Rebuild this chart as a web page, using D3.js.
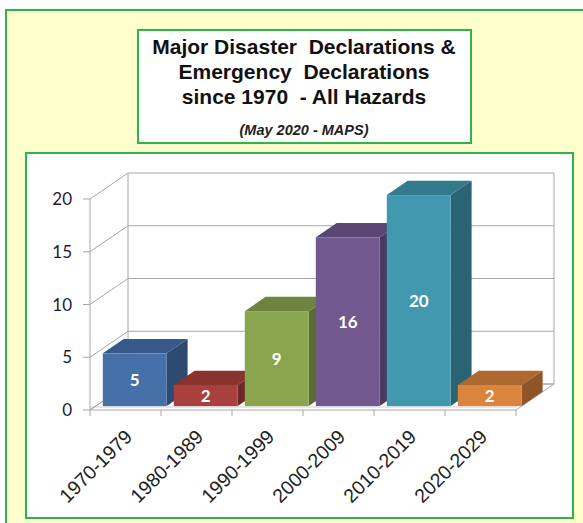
<!DOCTYPE html>
<html>
<head>
<meta charset="utf-8">
<script src="https://cdn.jsdelivr.net/npm/d3@7"></script>
<style>
  body { margin: 0; background: #fff; }
  svg { display: block; }
</style>
</head>
<body>
<div id="chart"></div>
<script>
// data
var decades = ["1970-1979", "1980-1989", "1990-1999", "2000-2009", "2010-2019", "2020-2029"];
var declarations = [5, 2, 9, 16, 20, 2];
var yTicks = [0, 5, 10, 15, 20];
var titleLines = ["Major Disaster  Declarations &", "Emergency  Declarations", "since 1970  - All Hazards"];
var subTitle = "(May 2020 - MAPS)";

// face colours, front / top / side
var frontCol = ["#4571a8", "#a8403e", "#89a54e", "#71588f", "#4198af", "#db843d"];
var topCol   = ["#36598a", "#893330", "#6e843e", "#5a4673", "#337a8c", "#ae6830"];
var sideCol  = ["#2d4a70", "#6e2927", "#5a6c33", "#4a3a5e", "#2a6372", "#8e5528"];

var W = 583, H = 523;
var green = "#2fb350";

var svg = d3.select("#chart").append("svg")
  .attr("width", W)
  .attr("height", H);

// outer yellow panel
svg.append("rect")
  .attr("x", 6).attr("y", 10)
  .attr("width", W + 10).attr("height", H + 10)
  .attr("fill", "#ffffcc")
  .attr("stroke", green).attr("stroke-width", 2);

// title box
svg.append("rect")
  .attr("x", 138).attr("y", 30)
  .attr("width", 333).attr("height", 113)
  .attr("fill", "#fff")
  .attr("stroke", green).attr("stroke-width", 2);

svg.selectAll("text.title")
  .data(titleLines)
  .enter()
  .append("text")
  .attr("class", "title")
  .attr("x", 304)
  .attr("y", function(d, i) { return 54 + i * 25; })
  .attr("text-anchor", "middle")
  .style("font-family", "'Liberation Sans', Arial, sans-serif")
  .style("font-weight", "bold")
  .style("font-size", "21px")
  .style("white-space", "pre")
  .attr("fill", "#111")
  .text(function(d) { return d; });

svg.append("text")
  .attr("x", 304).attr("y", 135)
  .attr("text-anchor", "middle")
  .style("font-family", "'Liberation Sans', Arial, sans-serif")
  .style("font-weight", "bold")
  .style("font-style", "italic")
  .style("font-size", "14.5px")
  .attr("fill", "#222")
  .text(subTitle);

// chart box
svg.append("rect")
  .attr("x", 26).attr("y", 153)
  .attr("width", 547).attr("height", 365)
  .attr("fill", "#fff")
  .attr("stroke", green).attr("stroke-width", 2);

// 3d plot area
var left = 90, bottom = 410, plotW = 426, plotH = 211;
var depthX = 38, depthY = -26;     // wall depth
var barT0 = 0.15, barT1 = 0.70;    // bar sits between these depth fractions

var x = d3.scaleBand()
  .domain(decades)
  .range([left, left + plotW]);

var y = d3.scaleLinear()
  .domain([0, 20])
  .range([bottom, bottom - plotH]);

var grid = svg.append("g")
  .attr("stroke", "#a6a6a6")
  .attr("stroke-width", 1)
  .attr("fill", "none");

// floor
grid.append("path")
  .attr("fill", "#fff")
  .attr("d", "M" + left + "," + bottom +
    "L" + (left + plotW) + "," + bottom +
    "L" + (left + plotW + depthX) + "," + (bottom + depthY) +
    "L" + (left + depthX) + "," + (bottom + depthY) + "Z");
grid.append("line")
  .attr("x1", left).attr("y1", bottom - 3)
  .attr("x2", left + plotW).attr("y2", bottom - 3)
  .attr("stroke", "#d0d0d0");

// back wall lines and left wall diagonals
yTicks.forEach(function(t) {
  var yy = y(t);
  grid.append("line")
    .attr("x1", left + depthX).attr("y1", yy + depthY)
    .attr("x2", left + plotW + depthX).attr("y2", yy + depthY);
  grid.append("line")
    .attr("x1", left).attr("y1", yy)
    .attr("x2", left + depthX).attr("y2", yy + depthY);
  grid.append("line")
    .attr("x1", left - 7).attr("y1", yy)
    .attr("x2", left).attr("y2", yy);
});
grid.append("line")
  .attr("x1", left + depthX).attr("y1", y(20) + depthY)
  .attr("x2", left + depthX).attr("y2", y(0) + depthY);
grid.append("line")
  .attr("x1", left + plotW + depthX).attr("y1", y(20) + depthY)
  .attr("x2", left + plotW + depthX).attr("y2", y(0) + depthY);
grid.append("line")
  .attr("x1", left).attr("y1", y(20))
  .attr("x2", left).attr("y2", y(0));

// x ticks on front edge
d3.range(decades.length + 1).forEach(function(i) {
  var xx = left + i * x.step();
  grid.append("line")
    .attr("x1", xx).attr("y1", bottom)
    .attr("x2", xx).attr("y2", bottom + 6);
});

// y labels
svg.selectAll("text.ytick")
  .data(yTicks)
  .enter()
  .append("text")
  .attr("class", "ytick")
  .attr("x", 72)
  .attr("y", function(d) { return y(d); })
  .attr("dy", "0.36em")
  .attr("text-anchor", "end")
  .style("font-family", "Lato, 'Open Sans', sans-serif")
  .style("font-size", "17px")
  .attr("fill", "#1c1c3a")
  .text(function(d) { return d; });

// bars
var ox = depthX * barT0, oy = depthY * barT0;
var bdx = depthX * (barT1 - barT0), bdy = depthY * (barT1 - barT0);
var bw = x.bandwidth() * 0.9;

var bars = svg.selectAll("g.bar")
  .data(declarations)
  .enter()
  .append("g")
  .attr("class", "bar");

bars.each(function(d, i) {
  var g = d3.select(this);
  var x0 = x(decades[i]) + x.bandwidth() * 0.1 + ox;
  var x1 = x0 + bw;
  var yb = y(0) + oy;
  var yt = y(d) + oy;
  // side
  g.append("path")
    .attr("fill", sideCol[i])
    .attr("d", "M" + x1 + "," + yb + "L" + x1 + "," + yt +
      "L" + (x1 + bdx) + "," + (yt + bdy) + "L" + (x1 + bdx) + "," + (yb + bdy) + "Z");
  // top
  g.append("path")
    .attr("fill", topCol[i])
    .attr("d", "M" + x0 + "," + yt + "L" + x1 + "," + yt +
      "L" + (x1 + bdx) + "," + (yt + bdy) + "L" + (x0 + bdx) + "," + (yt + bdy) + "Z");
  // front
  g.append("rect")
    .attr("x", x0).attr("y", yt)
    .attr("width", bw).attr("height", yb - yt)
    .attr("fill", frontCol[i]);
  g.append("text")
    .attr("x", x0 + bw / 2)
    .attr("y", (yt + yb) / 2)
    .attr("dy", "0.36em")
    .attr("text-anchor", "middle")
    .style("font-family", "Lato, 'Open Sans', sans-serif")
    .style("font-weight", "bold")
    .style("font-size", "17px")
    .attr("fill", "#fff")
    .text(d);
});

// rotated category labels
svg.selectAll("text.xlab")
  .data(decades)
  .enter()
  .append("text")
  .attr("class", "xlab")
  .attr("text-anchor", "end")
  .attr("transform", function(d) {
    var ax = x(d) + x.bandwidth() / 2 + 8;
    return "translate(" + ax + ",438)rotate(-45)";
  })
  .style("font-family", "'Liberation Sans', Arial, sans-serif")
  .style("font-size", "19.5px")
  .attr("fill", "#222")
  .text(function(d) { return d; });
</script>
</body>
</html>
